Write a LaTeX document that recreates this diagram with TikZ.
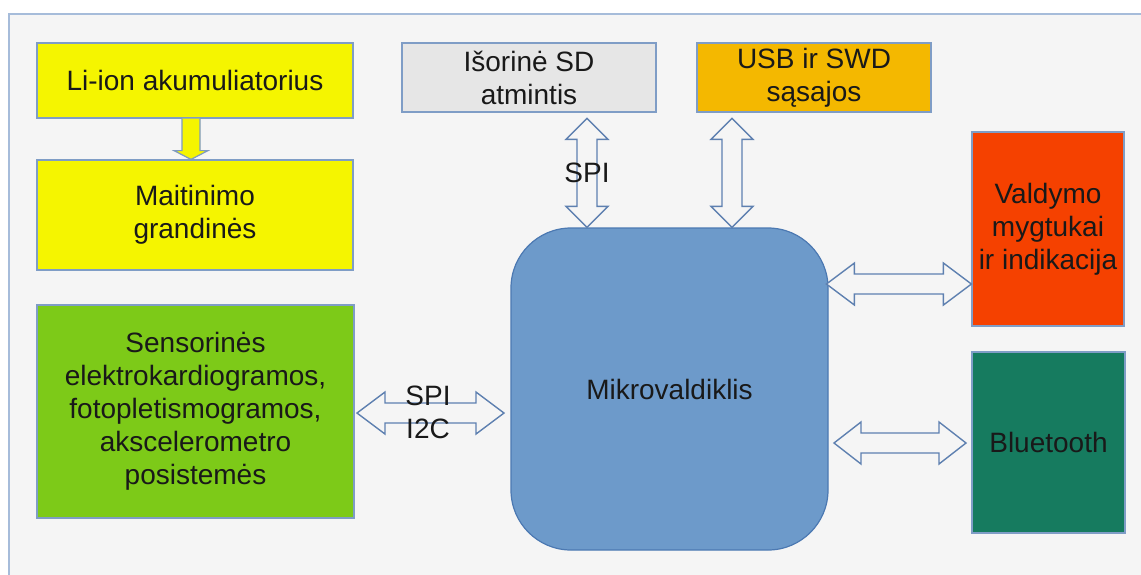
\documentclass[tikz,border=0pt]{standalone}
\usepackage{fontspec}
\setmainfont{Liberation Sans}
\usetikzlibrary{calc}
\definecolor{cbg}{HTML}{F5F5F5}
\definecolor{cframe}{HTML}{A6BCDA}
\definecolor{cedge}{HTML}{7F9DC6}
\definecolor{carr}{HTML}{5E80B0}
\definecolor{cyel}{HTML}{F5F500}
\definecolor{cgray}{HTML}{E6E6E6}
\definecolor{cgold}{HTML}{F4B800}
\definecolor{cred}{HTML}{F54100}
\definecolor{cteal}{HTML}{167B5F}
\definecolor{cgreen}{HTML}{7DCA18}
\definecolor{cmcu}{HTML}{6D9ACA}
\definecolor{cmcuedge}{HTML}{4C79B2}
\tikzset{
	blk/.style={draw=cedge,line width=1.2pt,align=center,inner sep=2pt,text=black!90,font=\fontsize{28}{33}\selectfont},
	dbl/.style={draw=carr,line width=1.4pt,fill=cbg,line join=miter},
	lbl/.style={font=\fontsize{28}{33}\selectfont,text=black!90},
	pics/dblarr/.style 2 args={code={
		\draw[dbl] (0,0) -- (#2,21) -- (#2,10) -- (#1-#2,10) -- (#1-#2,21) -- (#1,0) -- (#1-#2,-21) -- (#1-#2,-10) -- (#2,-10) -- (#2,-21) -- cycle ;}}
}
\begin{document}
\begin{tikzpicture}[x=1pt,y=-1pt]
	\useasboundingbox (0,0) rectangle (1141,574) ;
	\fill[white] (0,0) rectangle (1141,574) ;
	\draw[cframe,line width=2pt,fill=cbg] (9,14) rectangle (1170,600) ;
	% blocks
	\node[blk,fill=cyel,minimum width=316pt,minimum height=75pt] (bat) at (195,80.5) {Li-ion akumuliatorius} ;
	\node[blk,fill=cyel,minimum width=316pt,minimum height=110pt] (pwr) at (195,215) {Maitinimo\\grandinės} ;
	\node[blk,fill=cgreen,minimum width=317pt,minimum height=213pt] (sens) at (195.5,411.5) {Sensorinės\\elektrokardiogramos,\\fotopletismogramos,\\akscelerometro\\posistemės} ;
	\node[blk,fill=cgray,minimum width=254pt,minimum height=69pt] (sd) at (529,77.5) {Išorinė SD\\atmintis} ;
	\node[blk,fill=cgold,minimum width=234pt,minimum height=69pt] (usb) at (814,77.5) {USB ir SWD\\sąsajos} ;
	\node[blk,fill=cred,minimum width=152pt,minimum height=194pt] (ctrl) at (1048,229) {Valdymo\\mygtukai\\ir indikacija} ;
	\node[blk,fill=cteal,minimum width=153pt,minimum height=181pt] (bt) at (1048.5,442.5) {Bluetooth} ;
	\node[blk,draw=cmcuedge,fill=cmcu,rounded corners=60pt,minimum width=317pt,minimum height=322pt] (mcu) at (669.5,389) {Mikrovaldiklis} ;
	% power arrow
	\coordinate (p) at (bat.south -| 191,0) ;
	\draw[carr!80,line width=1.2pt,fill=cyel] ($(p)+(-9,0)$) -- ++(0,32) -- ++(-8,0) -- (p |- pwr.north) -- ($(p)+(17,32)$) -- ++(-8,0) -- ($(p)+(9,0)$) ;
	% buses
	\pic[rotate=90] at (mcu.north -| 587,0) {dblarr={109}{21}} ;
	\pic[rotate=90] at (mcu.north -| 732,0) {dblarr={109}{21}} ;
	\pic[rotate=180] at (ctrl.west |- 0,284) {dblarr={145}{28}} ;
	\pic[rotate=180] at (966,443) {dblarr={132}{27}} ;
	\pic at (357,413) {dblarr={147}{28}} ;
	\node[lbl] (spi1) at (587,173) {SPI} ;
	\node[lbl] (spi2) at (428,396) {SPI} ;
	\node[lbl] (i2c) at (428,429) {I2C} ;
\end{tikzpicture}
\end{document}
